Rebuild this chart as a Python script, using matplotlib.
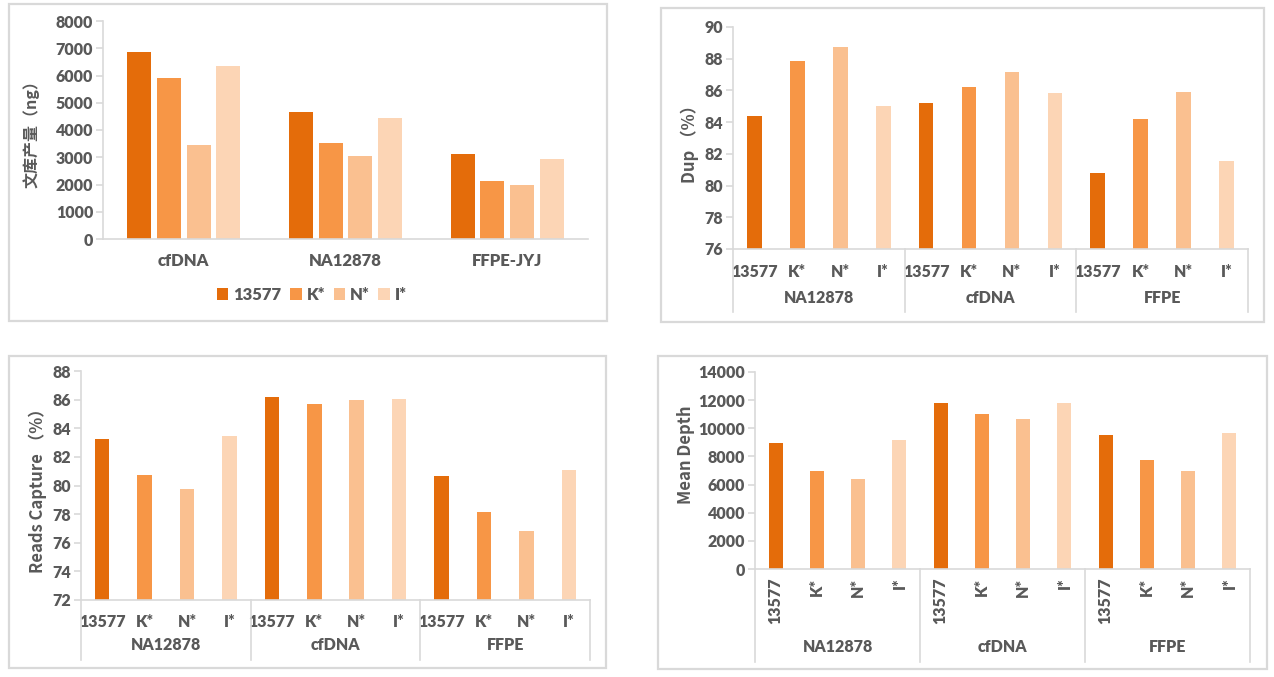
import matplotlib
matplotlib.use("Agg")
import matplotlib.pyplot as plt
from matplotlib.patches import Rectangle
from matplotlib.transforms import blended_transform_factory
import numpy as np

# ---------------- data ----------------
series = ['13577', 'K*', 'N*', 'I*']
colors = ['#E46C0A', '#F79646', '#FAC090', '#FCD5B5']

yield_groups = ['cfDNA', 'NA12878', 'FFPE-JYJ']
yield_13577 = [6880, 4670, 3120]
yield_K = [5890, 3540, 2140]
yield_N = [3440, 3060, 2000]
yield_I = [6360, 4440, 2950]

qc_groups = ['NA12878', 'cfDNA', 'FFPE']
dup_13577 = [84.39, 85.23, 80.79]
dup_K = [87.88, 86.21, 84.20]
dup_N = [88.76, 87.19, 85.90]
dup_I = [85.02, 85.81, 81.54]

cap_13577 = [83.24, 86.15, 80.69]
cap_K = [80.76, 85.69, 78.17]
cap_N = [79.77, 85.94, 76.84]
cap_I = [83.43, 86.06, 81.06]

depth_13577 = [8970, 11800, 9540]
depth_K = [6990, 11020, 7770]
depth_N = [6420, 10650, 6990]
depth_I = [9140, 11830, 9700]

# ---------------- style ----------------
W, H = 1274, 677
TXT = '#595959'
GRID = '#D9D9D9'
FONT = ['Lato', 'DejaVu Sans']
WT = 'heavy'
plt.rcParams['font.family'] = FONT
plt.rcParams['font.weight'] = WT

fig = plt.figure(figsize=(W / 100, H / 100), dpi=100)
fig.patch.set_facecolor('white')


def px_axes(x0, y0, x1, y1):
    return fig.add_axes([x0 / W, 1 - y1 / H, (x1 - x0) / W, (y1 - y0) / H])


def frame(x0, y0, x1, y1):
    fig.patches.append(Rectangle((x0 / W, 1 - y1 / H), (x1 - x0) / W, (y1 - y0) / H,
                                 transform=fig.transFigure, fill=False,
                                 edgecolor=GRID, linewidth=1.6))


def style_axes(ax):
    for s in ['top', 'right']:
        ax.spines[s].set_visible(False)
    for s in ['left', 'bottom']:
        ax.spines[s].set_color(GRID)
        ax.spines[s].set_linewidth(1.2)
    ax.tick_params(axis='y', colors=GRID, labelcolor=TXT, length=5, width=1.2,
                   labelsize=11.5, pad=2)
    ax.tick_params(axis='x', length=0, labelcolor=TXT, labelsize=11.5)
    for lab in ax.get_yticklabels():
        lab.set_fontweight(WT)


# frames
frame(9, 4, 607, 321)
frame(661, 8, 1264, 322)
frame(9, 356, 606, 668)
frame(658, 356, 1267, 669)

# ---------------- panel 1: grouped bars ----------------
ax1 = px_axes(103, 21, 588, 239)
yvals = [yield_13577, yield_K, yield_N, yield_I]
x = np.arange(len(yield_groups))
bw = 0.148
step = 0.183
for i, (vals, c) in enumerate(zip(yvals, colors)):
    ax1.bar(x + (i - 1.5) * step, vals, width=bw, color=c, label=series[i])
ax1.set_xlim(-0.5, 2.5)
ax1.set_ylim(0, 8000)
ax1.set_yticks(np.arange(0, 8001, 1000))
ax1.set_xticks(x)
ax1.set_xticklabels(yield_groups, fontweight=WT, fontsize=12)
style_axes(ax1)
ax1.tick_params(axis='x', pad=10, labelsize=12)
fig.text(31 / W, 1 - 130 / H, '文库产量（ng）', rotation=90, ha='center', va='center',
         color=TXT, fontsize=11.5, fontweight='bold',
         family=['Noto Sans CJK SC', 'DejaVu Sans'])
leg = fig.legend(loc='center', bbox_to_anchor=(312 / W, 1 - 295 / H), ncol=4,
                 frameon=False, handlelength=0.7, handleheight=0.7,
                 handletextpad=0.3, columnspacing=0.5,
                 prop={'family': FONT, 'weight': WT, 'size': 12})
for t in leg.get_texts():
    t.set_color(TXT)


# ---------------- multi-level category panels ----------------
def multilevel(box, data, ylim, yticks, ylabel, ylab_xy, rotate=False,
               label_pad=10, group_y=-48, bottom_ext=63, bw=0.34):
    ax = px_axes(*box)
    n_g = len(qc_groups)
    n_s = len(series)
    pos = np.arange(n_g * n_s)
    for gi in range(n_g):
        for si in range(n_s):
            ax.bar(gi * n_s + si, data[si][gi], width=bw, color=colors[si])
    ax.set_xlim(-0.5, n_g * n_s - 0.5)
    ax.set_ylim(*ylim)
    ax.set_yticks(yticks)
    ax.set_xticks(pos)
    ax.set_xticklabels(series * n_g, fontweight=WT,
                       rotation=90 if rotate else 0,
                       va='top', ha='center')
    style_axes(ax)
    ax.tick_params(axis='x', pad=label_pad)
    tr = blended_transform_factory(ax.transData, ax.transAxes)
    ax_h = box[3] - box[1]
    ext = bottom_ext / ax_h
    for b in np.arange(0, n_g + 1) * n_s - 0.5:
        ax.plot([b, b], [0, -ext], transform=tr, color=GRID, lw=1.2, clip_on=False)
    for gi, g in enumerate(qc_groups):
        ax.text(gi * n_s + (n_s - 1) / 2, group_y / ax_h, g, transform=tr,
                ha='center', va='center', color=TXT, fontsize=11.5, fontweight=WT)
    fig.text(ylab_xy[0] / W, 1 - ylab_xy[1] / H, ylabel, rotation=90, ha='center',
             va='center', color=TXT, fontsize=12, fontweight='bold',
             family=['Noto Sans CJK SC', 'DejaVu Sans'])
    return ax


multilevel((733, 27, 1248, 249), [dup_13577, dup_K, dup_N, dup_I], (76, 90),
           np.arange(76, 91, 2), 'Dup （%）', (690, 140),
           label_pad=11, group_y=-49, bottom_ext=63)

multilevel((81, 371, 590, 600), [cap_13577, cap_K, cap_N, cap_I], (72, 88),
           np.arange(72, 89, 2), 'Reads Capture （%）', (38, 487),
           label_pad=10, group_y=-45, bottom_ext=60)

multilevel((755, 372, 1250, 569), [depth_13577, depth_K, depth_N, depth_I], (0, 14000),
           np.arange(0, 14001, 2000), 'Mean Depth', (686, 455), rotate=True,
           label_pad=6, group_y=-78, bottom_ext=93)

fig.savefig('out.png', dpi=100, facecolor='white')
